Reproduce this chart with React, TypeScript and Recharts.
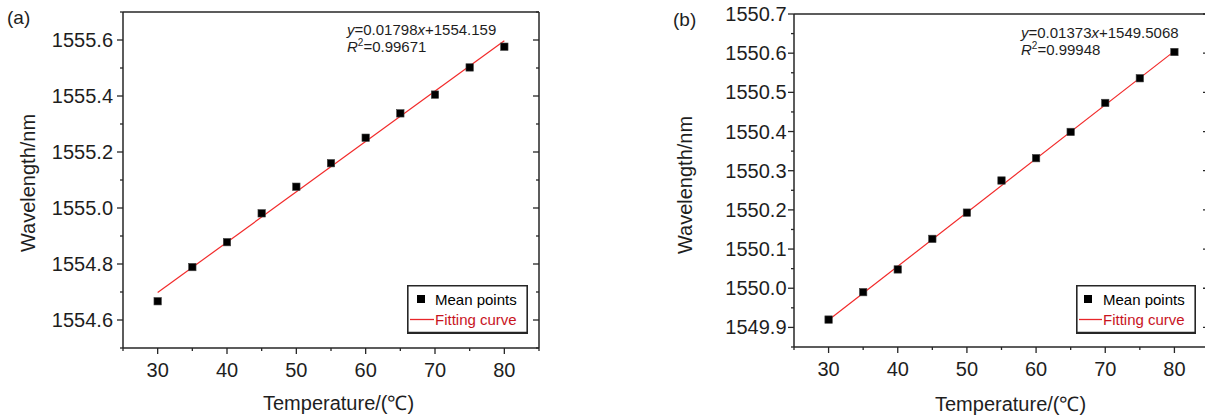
import React from 'react';
import { ComposedChart, Scatter, Line, XAxis, YAxis, Legend } from 'recharts';

// ---------- data ----------
const temps = [30, 35, 40, 45, 50, 55, 60, 65, 70, 75, 80];
const meanA = [1554.667, 1554.789, 1554.878, 1554.981, 1555.076, 1555.16, 1555.251, 1555.338, 1555.405, 1555.502, 1555.576];
const meanB = [1549.92, 1549.99, 1550.048, 1550.126, 1550.193, 1550.275, 1550.332, 1550.399, 1550.473, 1550.536, 1550.603];
const fitX = [30, 80];
const fitA = [1554.698, 1555.597];
const fitB = [1549.9187, 1550.6052];

const xTicks = [25, 30, 35, 40, 45, 50, 55, 60, 65, 70, 75, 80, 85];
const xLabels = [30, 40, 50, 60, 70, 80];
const yTicksA = [1554.5, 1554.6, 1554.7, 1554.8, 1554.9, 1555.0, 1555.1, 1555.2, 1555.3, 1555.4, 1555.5, 1555.6, 1555.7];
const yLabelsA = [1554.6, 1554.8, 1555.0, 1555.2, 1555.4, 1555.6];
const yTicksB = [1549.85, 1549.9, 1549.95, 1550.0, 1550.05, 1550.1, 1550.15, 1550.2, 1550.25, 1550.3, 1550.35, 1550.4, 1550.45, 1550.5, 1550.55, 1550.6, 1550.65, 1550.7];
const yLabelsB = [1549.9, 1550.0, 1550.1, 1550.2, 1550.3, 1550.4, 1550.5, 1550.6, 1550.7];
const seriesNames = ['Mean points', 'Fitting curve'];
const yTitle = 'Wavelength/nm';
const xTitle = 'Temperature/(℃)';

const FONT = "'Liberation Sans', Arial, sans-serif";
const AX = '#262626';
const TXT = '#1e1e1e';

const isIn = (arr: number[], v: number) => arr.some((a) => Math.abs(a - v) < 1e-6);

const makeBottomTick = () => (p: any) => {
  const major = isIn(xLabels, p.payload.value);
  return (
    <g>
      <line x1={p.x} x2={p.x} y1={p.y} y2={p.y + (major ? 6 : 3)} stroke={AX} strokeWidth={1.3} />
      {major && (
        <text x={p.x} y={p.y + 29} textAnchor="middle" fontSize={20} fontFamily={FONT} fill={TXT}>
          {p.payload.value}
        </text>
      )}
    </g>
  );
};
const makeTopTick = () => (p: any) => {
  const major = isIn(xLabels, p.payload.value);
  return <line x1={p.x} x2={p.x} y1={p.y} y2={p.y + (major ? 6 : 3)} stroke={AX} strokeWidth={1.3} />;
};
const makeLeftTick = (labels: number[], gap: number) => (p: any) => {
  const major = isIn(labels, p.payload.value);
  return (
    <g>
      <line x1={p.x - (major ? 6 : 3)} x2={p.x} y1={p.y} y2={p.y} stroke={AX} strokeWidth={1.3} />
      {major && (
        <text x={p.x - gap} y={p.y + 7} textAnchor="end" fontSize={20} fontFamily={FONT} fill={TXT}>
          {Number(p.payload.value).toFixed(1)}
        </text>
      )}
    </g>
  );
};
const makeRightTick = (labels: number[]) => (p: any) => {
  const major = isIn(labels, p.payload.value);
  return <line x1={p.x - (major ? 6 : 3)} x2={p.x} y1={p.y} y2={p.y} stroke={AX} strokeWidth={1.3} />;
};

// legend drawn in chart coordinates of the legend box (inner content only)
const makeLegend = (width: number, markX: number, textX: number) => () => (
  <svg width={width} height={49} style={{ display: 'block', overflow: 'visible' }} fontFamily={FONT} fontSize={15}>
    <rect x={4} y={4} width={width - 8} height={41} fill="#fff" stroke="none" />
    <rect x={markX - 4} y={10} width={8} height={8} fill="#000" />
    <text x={textX} y={19.5} fill="#000">{seriesNames[0]}</text>
    <line x1={3} x2={textX - 1} y1={34.5} y2={34.5} stroke="#e8262a" strokeWidth={1.3} />
    <text x={textX} y={39.5} fill="#c8141e">{seriesNames[1]}</text>
    <line x1={0} x2={width} y1={47.5} y2={47.5} stroke={AX} strokeWidth={1.6} />
    <line x1={0.8} x2={0.8} y1={0} y2={48} stroke={AX} strokeWidth={1.6} />
    <line x1={width - 0.8} x2={width - 0.8} y1={0} y2={48} stroke={AX} strokeWidth={1.6} />
    <line x1={0} x2={width} y1={0.8} y2={0.8} stroke={AX} strokeWidth={1.6} />
  </svg>
);

type PanelProps = {
  left: number;
  width: number;
  yAxisWidth: number;
  margin: { top: number; right: number; bottom: number; left: number };
  mean: number[];
  fit: number[];
  yDomain: [number, number];
  yTicks: number[];
  yLabels: number[];
  labelGap: number;
  legendPos: { left: number; top: number; width: number; markX: number; textX: number };
};

function Panel(props: PanelProps) {
  const scatterData = temps.map((t, i) => ({ x: t, y: props.mean[i] }));
  const fitData = fitX.map((t, i) => ({ x: t, y: props.fit[i] }));
  const lp = props.legendPos;
  return (
    <div style={{ position: 'absolute', left: props.left, top: 0 }}>
      <ComposedChart width={props.width} height={418} margin={props.margin}>
        <XAxis
          xAxisId="x"
          dataKey="x"
          type="number"
          domain={[25, 85]}
          ticks={xTicks}
          interval={0}
          allowDataOverflow
          height={40}
          tickSize={0}
          tickMargin={0}
          tickLine={false}
          axisLine={{ stroke: AX, strokeWidth: 1.5 }}
          tick={makeBottomTick()}
        />
        <XAxis
          xAxisId="top"
          orientation="top"
          type="number"
          domain={[25, 85]}
          ticks={xTicks}
          interval={0}
          allowDataOverflow
          height={2}
          tickSize={0}
          tickMargin={0}
          tickLine={false}
          axisLine={{ stroke: AX, strokeWidth: 1.5 }}
          tick={makeTopTick()}
        />
        <YAxis
          yAxisId="y"
          dataKey="y"
          type="number"
          domain={props.yDomain}
          ticks={props.yTicks}
          interval={0}
          allowDataOverflow
          width={props.yAxisWidth}
          tickSize={0}
          tickMargin={0}
          tickLine={false}
          axisLine={{ stroke: AX, strokeWidth: 1.5 }}
          tick={makeLeftTick(props.yLabels, props.labelGap)}
        />
        <YAxis
          yAxisId="right"
          orientation="right"
          type="number"
          domain={props.yDomain}
          ticks={props.yTicks}
          interval={0}
          allowDataOverflow
          width={2}
          tickSize={0}
          tickMargin={0}
          tickLine={false}
          axisLine={{ stroke: AX, strokeWidth: 1.5 }}
          tick={makeRightTick(props.yLabels)}
        />
        <Line
          xAxisId="x"
          yAxisId="y"
          data={fitData}
          dataKey="y"
          name={seriesNames[1]}
          stroke="#f22a2a"
          strokeWidth={1.2}
          dot={false}
          activeDot={false}
          isAnimationActive={false}
        />
        <Scatter
          xAxisId="x"
          yAxisId="y"
          data={scatterData}
          dataKey="y"
          name={seriesNames[0]}
          fill="#000"
          isAnimationActive={false}
          shape={(s: any) => <rect x={s.cx - 3.7} y={s.cy - 3.7} width={7.4} height={7.4} fill="#000" stroke="#444" strokeWidth={0.6} />}
        />
        <Legend
          layout="vertical"
          align="center"
          verticalAlign="middle"
          content={makeLegend(lp.width, lp.markX, lp.textX)}
          wrapperStyle={{ left: lp.left, top: lp.top, width: lp.width, height: 49, margin: 0 }}
        />
      </ComposedChart>
    </div>
  );
}

export default function App() {
  return (
    <div style={{ position: 'fixed', left: 0, top: 0, width: 1205, height: 418, overflow: 'hidden', background: '#fff' }}>
      <Panel
        left={0}
        width={600}
        yAxisWidth={123}
        margin={{ top: 10, right: 59, bottom: 30, left: 0 }}
        mean={meanA}
        fit={fitA}
        yDomain={[1554.5, 1555.7]}
        yTicks={yTicksA}
        yLabels={yLabelsA}
        labelGap={10}
        legendPos={{ left: 407, top: 285, width: 121, markX: 14, textX: 28 }}
      />
      <Panel
        left={605}
        width={620}
        yAxisWidth={189}
        margin={{ top: 12, right: 14, bottom: 31, left: 0 }}
        mean={meanB}
        fit={fitB}
        yDomain={[1549.85, 1550.7]}
        yTicks={yTicksB}
        yLabels={yLabelsB}
        labelGap={7.5}
        legendPos={{ left: 1076 - 605, top: 285, width: 120, markX: 12, textX: 27 }}
      />
      <svg width={1205} height={418} style={{ position: 'absolute', left: 0, top: 0, pointerEvents: 'none', zIndex: 5 }} fontFamily={FONT} fill={TXT}>
        <text x={7} y={24} fontSize={19}>(a)</text>
        <text x={673} y={26} fontSize={19}>(b)</text>
        <text transform="translate(35,183) rotate(-90)" textAnchor="middle" fontSize={20}>{yTitle}</text>
        <text transform="translate(692,185) rotate(-90)" textAnchor="middle" fontSize={20}>{yTitle}</text>
        <text x={263} y={410} fontSize={20}>{xTitle}</text>
        <text x={935} y={411} fontSize={20}>{xTitle}</text>
        <text x={347} y={35} fontSize={15}>
          <tspan fontStyle="italic">y</tspan>=0.01798<tspan fontStyle="italic">x</tspan>+1554.159
        </text>
        <text x={347} y={52} fontSize={15}>
          <tspan fontStyle="italic">R</tspan><tspan fontSize={10} dy={-6}>2</tspan><tspan dy={6}>=0.99671</tspan>
        </text>
        <text x={1021} y={38} fontSize={15}>
          <tspan fontStyle="italic">y</tspan>=0.01373<tspan fontStyle="italic">x</tspan>+1549.5068
        </text>
        <text x={1021} y={55} fontSize={15}>
          <tspan fontStyle="italic">R</tspan><tspan fontSize={10} dy={-6}>2</tspan><tspan dy={6}>=0.99948</tspan>
        </text>
      </svg>
      <div style={{ position: 'absolute', left: 407, top: 285, width: 121, height: 49, boxSizing: 'border-box', border: '1.6px solid #262626', zIndex: 6, pointerEvents: 'none' }} />
      <div style={{ position: 'absolute', left: 1076, top: 285, width: 120, height: 49, boxSizing: 'border-box', border: '1.6px solid #262626', zIndex: 6, pointerEvents: 'none' }} />
    </div>
  );
}
